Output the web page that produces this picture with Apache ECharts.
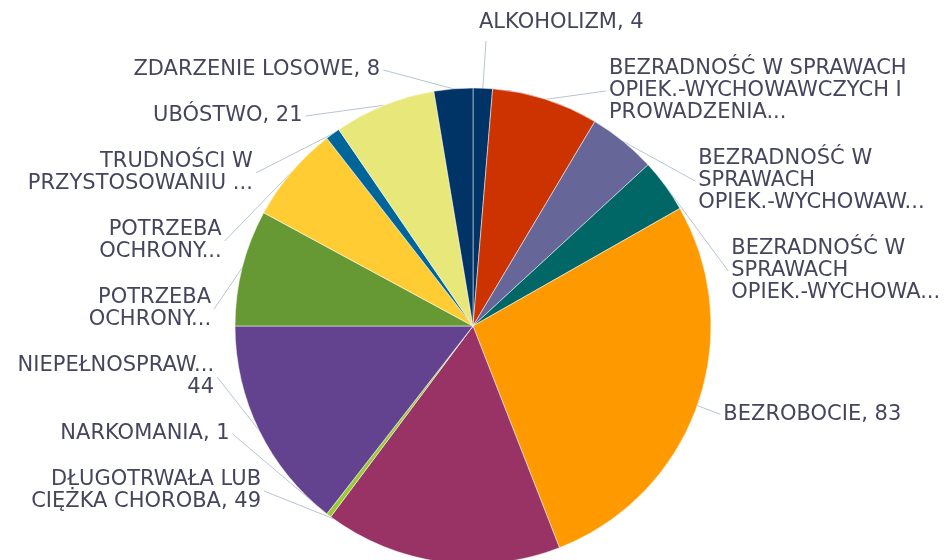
<!DOCTYPE html>
<html>
	<head>
		<meta charset="utf-8" />
		<title></title>
		<script src="https://cdn.jsdelivr.net/npm/echarts@6/dist/echarts.min.js"></script>
		<style>
			html, body { margin: 0; padding: 0; background: #fff; }
		</style>
	</head>
	<body>
		<div id="chart" style="width: 949px; height: 560px;"></div>
		<script>
		// kategorie (zgodnie z ruchem wskazówek zegara od góry)
		var categories = [
			'ALKOHOLIZM',
			'BEZRADNOŚĆ W SPRAWACH OPIEK.-WYCHOWAWCZYCH I PROWADZENIA...',
			'BEZRADNOŚĆ W SPRAWACH OPIEK.-WYCHOWAW...',
			'BEZRADNOŚĆ W SPRAWACH OPIEK.-WYCHOWA...',
			'BEZROBOCIE',
			'DŁUGOTRWAŁA LUB CIĘŻKA CHOROBA',
			'NARKOMANIA',
			'NIEPEŁNOSPRAW...',
			'POTRZEBA OCHRONY... (1)',
			'POTRZEBA OCHRONY... (2)',
			'TRUDNOŚCI W PRZYSTOSOWANIU ...',
			'UBÓSTWO',
			'ZDARZENIE LOSOWE'
		];
		var values = [4, 22, 14, 11, 83, 49, 1, 44, 24, 20, 3, 21, 8];
		// teksty etykiet tak jak na wykresie
		var labelTexts = [
			'ALKOHOLIZM, 4',
			'BEZRADNOŚĆ W SPRAWACH\nOPIEK.-WYCHOWAWCZYCH I\nPROWADZENIA...',
			'BEZRADNOŚĆ W\nSPRAWACH\nOPIEK.-WYCHOWAW...',
			'BEZRADNOŚĆ W\nSPRAWACH\nOPIEK.-WYCHOWA...',
			'BEZROBOCIE, 83',
			'DŁUGOTRWAŁA LUB\nCIĘŻKA CHOROBA, 49',
			'NARKOMANIA, 1',
			'NIEPEŁNOSPRAW...\n44',
			'POTRZEBA\nOCHRONY...',
			'POTRZEBA\nOCHRONY...',
			'TRUDNOŚCI W\nPRZYSTOSOWANIU ...',
			'UBÓSTWO, 21',
			'ZDARZENIE LOSOWE, 8'
		];
		var colors = ['#003366', '#cc3300', '#666699', '#006666', '#ff9900', '#993366',
			'#99cc33', '#634390', '#669933', '#ffcc33', '#006699', '#e8e87a', '#003366'];

		var cx = 473, cy = 326, r = 238;
		var lineH = 22;
		var targetR = r + 26;   // promień, na którym celują etykiety
		var xR = 262;           // promień do liczenia x etykiety
		var boxPad = 12;        // odstęp pionowy wokół etykiety
		var minGap = 40;
		var bottomBound = 525;

		// rozkład etykiet po bokach: grupy nachodzących na siebie etykiet
		// są układane jedna pod drugą i centrowane na swoich celach
		function distribute(list) {
			var groups = list.map(function (it) {
				return { items: [it], size: it.size, tMin: it.target, tMax: it.target, pos: 0 };
			});
			var merged = true;
			while (merged) {
				merged = false;
				groups.forEach(function (g) {
					var p = (g.tMin + g.tMax) / 2 - g.size / 2;
					g.pos = Math.max(0, Math.min(p, bottomBound - g.size));
				});
				for (var k = 1; k < groups.length; k++) {
					var a = groups[k - 1], b = groups[k];
					if (a.pos + a.size + minGap > b.pos) {
						a.items = a.items.concat(b.items);
						a.size += b.size;
						a.tMin = Math.min(a.tMin, b.tMin);
						a.tMax = Math.max(a.tMax, b.tMax);
						groups.splice(k, 1);
						merged = true;
						break;
					}
				}
			}
			groups.forEach(function (g) {
				var y = g.pos;
				g.items.forEach(function (it) {
					it.y = y + it.size / 2;
					y += it.size;
				});
			});
		}

		var total = values.reduce(function (s, v) { return s + v; }, 0);
		var labelPos = [];
		var leftList = [], rightList = [];
		var acc = 0;
		for (var i = 0; i < values.length; i++) {
			var mid = (acc + values[i] / 2) / total * Math.PI * 2;
			acc += values[i];
			var lines = labelTexts[i].split('\n').length;
			var it = {
				idx: i,
				left: Math.sin(mid) < 0,
				target: cy - targetR * Math.cos(mid),
				size: lines * lineH + boxPad * 2
			};
			labelPos.push(it);
			(it.left ? leftList : rightList).push(it);
		}
		[leftList, rightList].forEach(function (lst) {
			lst.sort(function (a, b) { return a.target - b.target; });
			distribute(lst);
		});
		labelPos.forEach(function (it) {
			var dir = it.left ? -1 : 1;
			var d = Math.max(Math.abs(it.y - cy) - 11, 0);
			it.above = d >= xR;
			it.x = it.above ? cx + 6 : cx + dir * Math.sqrt(xR * xR - d * d);
		});

		var data = [];
		for (var j = 0; j < categories.length; j++) {
			data.push({
				name: categories[j],
				value: values[j],
				itemStyle: { color: colors[j] }
			});
		}

		var myChart = echarts.init(document.getElementById('chart'));
		var option = {
			animation: false,
			series: [{
				type: 'pie',
				center: [cx, cy],
				radius: r,
				startAngle: 90,
				clockwise: true,
				avoidLabelOverlap: false,
				itemStyle: {
					borderColor: '#ffffff',
					borderWidth: 0.5
				},
				label: {
					show: true,
					position: 'outside',
					fontFamily: 'DejaVu Sans',
					fontSize: 21,
					lineHeight: lineH,
					color: '#45465e',
					formatter: function (p) {
						return labelTexts[p.dataIndex];
					}
				},
				labelLine: {
					show: true,
					length: 26,
					length2: 0,
					lineStyle: {
						color: '#b8c4d4',
						width: 1
					}
				},
				labelLayout: function (params) {
					var lp = labelPos[params.dataIndex];
					var start = params.labelLinePoints[0];
					if (lp.above) {
						return {
							x: lp.x, y: lp.y,
							align: 'left', verticalAlign: 'middle',
							labelLinePoints: [start, [lp.x + 7, lp.y + 18]]
						};
					}
					var dir = lp.left ? -1 : 1;
					return {
						x: lp.x, y: lp.y,
						align: lp.left ? 'right' : 'left',
						verticalAlign: 'middle',
						labelLinePoints: [start, [lp.x - dir * 3, lp.y]]
					};
				},
				data: data
			}]
		};
		myChart.setOption(option);
		</script>
	</body>
</html>
